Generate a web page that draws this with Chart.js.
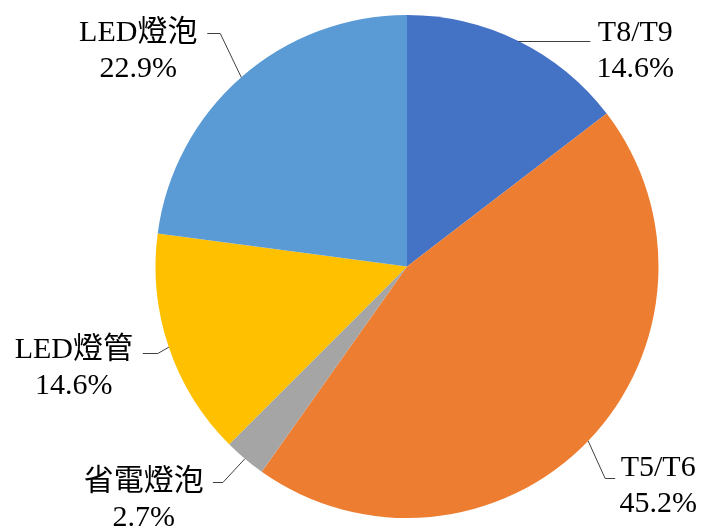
<!DOCTYPE html>
<html>
<head>
<meta charset="utf-8">
<script src="https://cdn.jsdelivr.net/npm/chart.js@4"></script>
<style>
  html, body { margin: 0; padding: 0; background: #fff; }
  #wrap { width: 704px; height: 530px; }
</style>
</head>
<body>
<div id="wrap"><canvas id="myChart" width="704" height="530"></canvas></div>
<script>
var categories = ['T8/T9', 'T5/T6', '省電燈泡', 'LED燈管', 'LED燈泡'];
var shares = [14.6, 45.2, 2.7, 14.6, 22.9];
var sliceColors = ['#4472C4', '#ED7D31', '#A5A5A5', '#FFC000', '#5B9BD5'];

// leader line / label placement, offsets from the slice's outer mid point
var labelLayout = [
  { knee: [0, 0],    end: [72, 0],   text: [117, -8] },
  { knee: [17, 37],  end: [27, 37],  text: [70, 27] },
  { knee: [-22, 23], end: [-32, 23], text: [-101, 23] },
  { knee: [-11, 6],  end: [-26, 6],  text: [-95, 3] },
  { knee: [-21, -44], end: [-34, -44], text: [-103, -44] }
];

var labelFont = "30px 'Liberation Serif', 'Noto Sans CJK TC', serif";
var lineGap = 36;

const pieLabels = {
  id: 'pieLabels',
  afterDatasetsDraw(chart) {
    const ctx = chart.ctx;
    const meta = chart.getDatasetMeta(0);
    ctx.save();
    meta.data.forEach((arc, i) => {
      const p = arc.getProps(['x', 'y', 'startAngle', 'endAngle', 'outerRadius'], true);
      const mid = (p.startAngle + p.endAngle) / 2;
      const sx = p.x + Math.cos(mid) * p.outerRadius;
      const sy = p.y + Math.sin(mid) * p.outerRadius;
      const lay = labelLayout[i];
      // snap horizontal run to the pixel grid
      const ky = Math.round(sy + lay.knee[1]) + 0.5;

      ctx.strokeStyle = '#404040';
      ctx.lineWidth = 1;
      ctx.beginPath();
      ctx.moveTo(sx, lay.knee[1] === 0 ? ky : sy);
      ctx.lineTo(sx + lay.knee[0], ky);
      ctx.lineTo(sx + lay.end[0], ky);
      ctx.stroke();

      ctx.fillStyle = '#000';
      ctx.font = labelFont;
      ctx.textAlign = 'center';
      ctx.textBaseline = 'middle';
      const tx = sx + lay.text[0];
      const ty = sy + lay.text[1];
      ctx.fillText(categories[i], tx, ty);
      ctx.fillText(shares[i].toFixed(1) + '%', tx, ty + lineGap);
    });
    ctx.restore();
  }
};

const ctx = document.getElementById('myChart');

const config = {
  type: 'pie',
  data: {
    labels: categories,
    datasets: [{
      data: shares,
      backgroundColor: sliceColors,
      borderWidth: 0
    }]
  },
  options: {
    responsive: false,
    animation: false,
    layout: {
      padding: { top: 15, bottom: 12, left: 155, right: 45 }
    },
    plugins: {
      legend: { display: false },
      tooltip: { enabled: false },
      title: { display: false }
    }
  },
  plugins: [pieLabels]
};

new Chart(ctx, config);
</script>
</body>
</html>
